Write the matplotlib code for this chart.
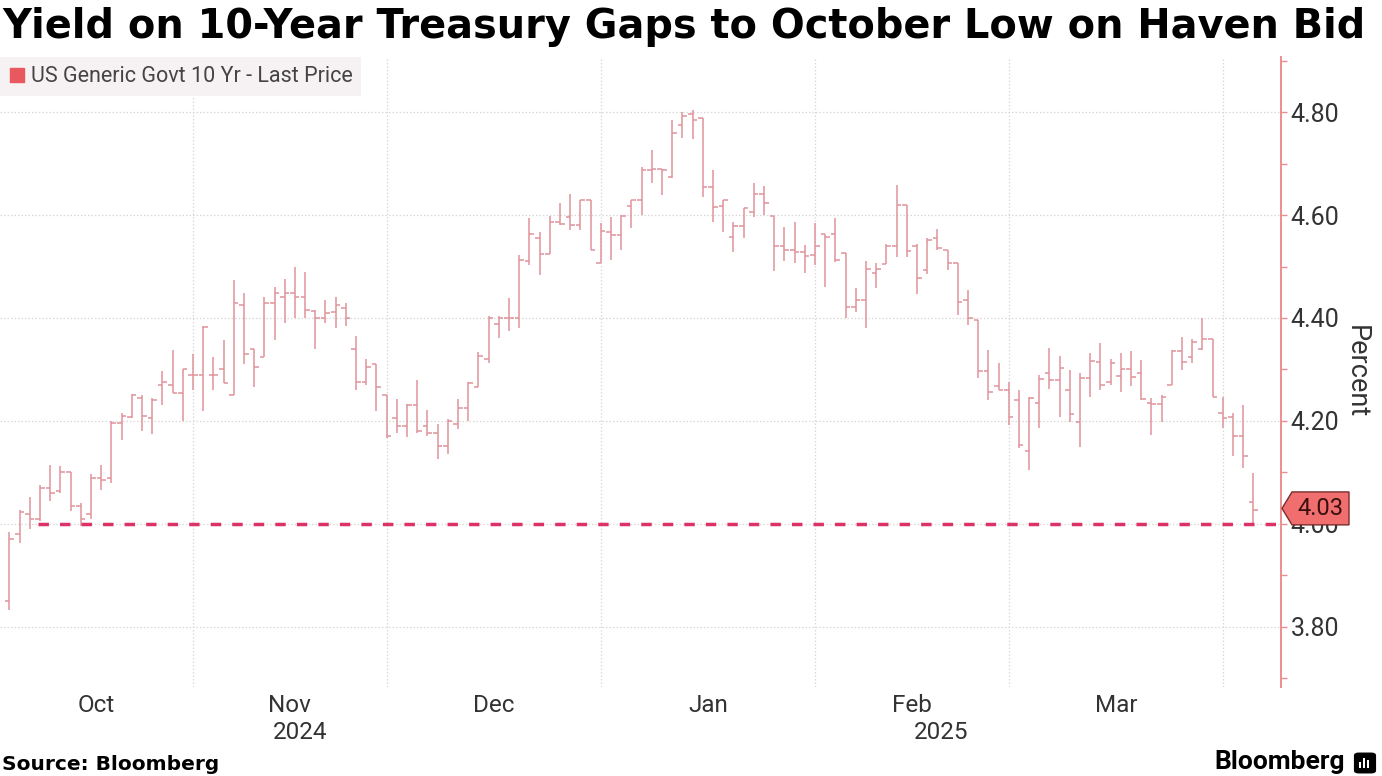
import numpy as np
import pandas as pd
import matplotlib
matplotlib.use("Agg")
import matplotlib.pyplot as plt
import matplotlib.transforms as mtransforms
from matplotlib.lines import Line2D
from matplotlib.patches import Polygon, FancyBboxPatch, Rectangle

# ---- data -------------------------------------------------------------
title = "Yield on 10-Year Treasury Gaps to October Low on Haven Bid"
series_name = "US Generic Govt 10 Yr - Last Price"

# bond market trading days (holidays taken out)
holidays = ["2024-10-14", "2024-11-11", "2024-11-28", "2024-12-25",
            "2025-01-01", "2025-01-20", "2025-02-17"]
dates = pd.bdate_range("2024-10-04", "2025-04-03", freq="C", holidays=holidays)

opens = [3.85, 3.98, 4.02, 4.01, 4.07, 4.063, 4.10, 4.035, 4.02, 4.09,
         4.09, 4.196, 4.208, 4.245, 4.206, 4.27, 4.27, 4.254, 4.29,
         4.29, 4.29, 4.30, 4.25, 4.425, 4.34, 4.325, 4.43, 4.44, 4.448,
         4.44, 4.413, 4.40, 4.412, 4.42, 4.34, 4.275, 4.31, 4.25,
         4.205, 4.19, 4.23, 4.19, 4.177, 4.152, 4.194, 4.226, 4.266, 4.32,
         4.389, 4.40, 4.40, 4.51, 4.555, 4.524, 4.587, 4.597, 4.58, 4.629,
         4.506,
         4.568, 4.561, 4.617, 4.63, 4.687, 4.69, 4.673, 4.775, 4.796, 4.788,
         4.654, 4.617, 4.557, 4.579, 4.606, 4.64, 4.598, 4.539, 4.533, 4.529,
         4.522,
         4.563, 4.564, 4.526, 4.421, 4.435, 4.487, 4.505, 4.54, 4.62, 4.539,
         4.493, 4.555, 4.533, 4.506, 4.435, 4.397, 4.296, 4.268, 4.26,
         4.241, 4.141, 4.234, 4.294, 4.28, 4.26, 4.197, 4.283, 4.315, 4.276,
         4.287, 4.30, 4.293, 4.234, 4.233, 4.27, 4.335, 4.325, 4.339, 4.359,
         4.215,
         4.208, 4.17, 4.043]
highs = [3.985, 4.027, 4.053, 4.075, 4.115, 4.112, 4.10, 4.04, 4.096, 4.115,
         4.20, 4.215, 4.253, 4.25, 4.245, 4.297, 4.338, 4.30, 4.33,
         4.385, 4.325, 4.357, 4.474, 4.448, 4.34, 4.44, 4.461, 4.476, 4.50,
         4.49, 4.415, 4.435, 4.44, 4.43, 4.365, 4.32, 4.31, 4.25,
         4.242, 4.232, 4.279, 4.222, 4.194, 4.203, 4.243, 4.275, 4.333, 4.403,
         4.403, 4.439, 4.523, 4.594, 4.568, 4.598, 4.624, 4.64, 4.629, 4.629,
         4.585,
         4.597, 4.60, 4.629, 4.694, 4.727, 4.69, 4.784, 4.80, 4.804, 4.788,
         4.687, 4.629, 4.587, 4.613, 4.663, 4.656, 4.598, 4.577, 4.587, 4.542,
         4.584,
         4.564, 4.594, 4.526, 4.458, 4.511, 4.506, 4.544, 4.658, 4.62, 4.544,
         4.555, 4.572, 4.533, 4.506, 4.455, 4.397, 4.338, 4.312, 4.276,
         4.26, 4.247, 4.289, 4.341, 4.326, 4.298, 4.294, 4.331, 4.351, 4.32,
         4.331, 4.335, 4.318, 4.244, 4.25, 4.338, 4.364, 4.359, 4.40, 4.359,
         4.247,
         4.215, 4.231, 4.098]
lows = [3.833, 3.963, 3.99, 4.005, 4.045, 4.06, 4.025, 3.995, 4.01, 4.066,
        4.08, 4.163, 4.205, 4.18, 4.175, 4.23, 4.254, 4.20, 4.26,
        4.22, 4.26, 4.273, 4.25, 4.31, 4.265, 4.325, 4.357, 4.39, 4.40,
        4.40, 4.34, 4.39, 4.38, 4.385, 4.26, 4.27, 4.22, 4.166,
        4.177, 4.168, 4.177, 4.17, 4.126, 4.136, 4.184, 4.20, 4.266, 4.313,
        4.361, 4.374, 4.38, 4.503, 4.484, 4.524, 4.58, 4.57, 4.57, 4.532,
        4.506,
        4.513, 4.532, 4.574, 4.60, 4.663, 4.639, 4.671, 4.749, 4.747, 4.636,
        4.587, 4.568, 4.529, 4.555, 4.597, 4.60, 4.492, 4.51, 4.506, 4.487,
        4.503,
        4.461, 4.509, 4.40, 4.412, 4.38, 4.458, 4.505, 4.518, 4.518, 4.447,
        4.485, 4.532, 4.493, 4.406, 4.387, 4.283, 4.241, 4.26, 4.192,
        4.147, 4.104, 4.186, 4.262, 4.208, 4.198, 4.15, 4.247, 4.26, 4.27,
        4.257, 4.268, 4.241, 4.173, 4.197, 4.27, 4.299, 4.313, 4.338, 4.246,
        4.186,
        4.131, 4.108, 3.995]
closes = [3.97, 4.023, 4.01, 4.07, 4.06, 4.10, 4.035, 4.01, 4.09, 4.085,
          4.196, 4.21, 4.25, 4.21, 4.24, 4.275, 4.254, 4.30, 4.29,
          4.383, 4.29, 4.273, 4.43, 4.33, 4.305, 4.43, 4.448, 4.448, 4.44,
          4.415, 4.40, 4.41, 4.425, 4.40, 4.275, 4.305, 4.265, 4.17,
          4.19, 4.23, 4.18, 4.177, 4.152, 4.20, 4.226, 4.274, 4.327, 4.40,
          4.40, 4.40, 4.513, 4.563, 4.524, 4.587, 4.582, 4.58, 4.629, 4.532,
          4.569,
          4.561, 4.598, 4.63, 4.687, 4.69, 4.688, 4.76, 4.792, 4.785, 4.654,
          4.615, 4.629, 4.579, 4.613, 4.64, 4.623, 4.539, 4.533, 4.529, 4.52,
          4.54,
          4.558, 4.513, 4.421, 4.435, 4.495, 4.496, 4.539, 4.62, 4.531, 4.477,
          4.551, 4.535, 4.506, 4.432, 4.40, 4.296, 4.257, 4.26, 4.208,
          4.153, 4.244, 4.281, 4.28, 4.302, 4.214, 4.283, 4.317, 4.27, 4.313,
          4.30, 4.285, 4.242, 4.233, 4.247, 4.335, 4.315, 4.354, 4.359, 4.247,
          4.205,
          4.17, 4.131, 4.027]

last_price = 4.03
october_low = 4.00
low_line_start = 2.8   # bar position where the October-low line begins

y_ticks = [3.8, 4.0, 4.2, 4.4, 4.6, 4.8]

# ---- style ------------------------------------------------------------
bar_color = "#e0939b"
axis_color = "#ec8e8e"
grid_color = "#d8d8d8"
text_color = "#333333"
font = "Roboto"
head_font = "DejaVu Sans"

fig = plt.figure(figsize=(13.82, 7.76), dpi=100)
ax = fig.add_axes([0.0, 0.1147, 0.9269, 0.8118])

x = np.arange(len(dates))
ax.vlines(x, lows, highs, color=bar_color, lw=1.1, zorder=3)
ax.hlines(opens, x - 0.45, x, color=bar_color, lw=1.1, zorder=3)
ax.hlines(closes, x, x + 0.45, color=bar_color, lw=1.1, zorder=3)

x0, x1 = -0.92, len(dates) - 1 + 2.7
ax.set_xlim(x0, x1)
ax.set_ylim(3.683, 4.907)

# October low line
ax.plot([low_line_start, x1], [october_low, october_low], color="#dc3266",
        lw=2.5, dashes=(3.0, 3.2), zorder=4, dash_capstyle="butt")

# month boundaries (last trading day of month) and labels
month_end = [i for i in range(len(dates) - 1) if dates[i].month != dates[i + 1].month]
ax.set_xticks(month_end)
ax.set_xticklabels([])
ax.tick_params(axis="x", which="major", length=0)
edges = [x0] + month_end + [x1]
centers, names = [], []
for a, b in zip(edges[:-1], edges[1:]):
    if b - a < 10:
        continue
    mid = int(round((a + b) / 2))
    centers.append((a + b) / 2)
    names.append(dates[min(max(mid, 0), len(dates) - 1)].strftime("%b"))
ax.set_xticks(centers, minor=True)
ax.set_xticklabels(names, minor=True, fontsize=17.5, color=text_color, family=font)
ax.tick_params(axis="x", which="minor", length=0, pad=5)

# year labels centred on each year's visible span
trans_x = mtransforms.blended_transform_factory(ax.transData, ax.transAxes)
year_end = [i for i in range(len(dates) - 1) if dates[i].year != dates[i + 1].year]
yedges = [x0] + year_end + [x1]
for a, b in zip(yedges[:-1], yedges[1:]):
    yr = dates[int(max(a, 0)) + 1].year
    ax.text((a + b) / 2, -0.073, str(yr), transform=trans_x, ha="center",
            va="center", fontsize=17.5, color=text_color, family=font)

# y axis on the right
ax.yaxis.tick_right()
ax.yaxis.set_label_position("right")
ax.set_yticks(y_ticks)
ax.set_yticklabels(["%.2f" % v for v in y_ticks], fontsize=18,
                   color=text_color, family=font)
ax.set_yticks(np.arange(3.7, 4.95, 0.2), minor=True)
ax.tick_params(axis="y", which="major", length=4, width=1, color=axis_color, pad=3)
ax.tick_params(axis="y", which="minor", length=4, width=1, color=axis_color)
ax.set_ylabel("Percent", rotation=270, fontsize=19.5, color=text_color,
              family=font, labelpad=22)

ax.grid(True, which="major", axis="both", color=grid_color, lw=0.9,
        ls=(0, (1.2, 1.6)), zorder=0)

for s in ["top", "left", "bottom"]:
    ax.spines[s].set_visible(False)
ax.spines["right"].set_color(axis_color)
ax.spines["right"].set_linewidth(1.4)

# legend
handle = Line2D([], [], marker="s", ls="", color="#e8585e", markersize=10)
leg = ax.legend([handle], [series_name], loc="upper left", bbox_to_anchor=(0, 1),
                borderaxespad=0, frameon=True, fancybox=False, handlelength=0.7,
                handletextpad=0.3, borderpad=0.42,
                prop={"family": font, "size": 15.5})
leg.get_frame().set_facecolor("#f6f1f2")
leg.get_frame().set_edgecolor("none")
leg.get_frame().set_alpha(1)
for t in leg.get_texts():
    t.set_color("#444444")

# last price tag
trans_y = mtransforms.blended_transform_factory(ax.transAxes, ax.transData)
h = 0.032
tag = Polygon([(1.0008, last_price), (1.0086, last_price + h), (1.0531, last_price + h),
               (1.0531, last_price - h), (1.0086, last_price - h)],
              closed=True, transform=trans_y, clip_on=False, facecolor="#f06e6e",
              edgecolor="#7a2d2d", lw=1, zorder=10)
ax.add_patch(tag)
ax.text(1.031, last_price, "%.2f" % last_price, transform=trans_y, ha="center",
        va="center", fontsize=17, color="#3a0f0f", family=font, zorder=11,
        clip_on=False)

# titles and footer
fig.text(0.0015, 1 - 27 / 776, title, ha="left", va="center", fontsize=28.7,
         fontweight="bold", family=head_font, color="black")
fig.text(0.0015, 1 - 764 / 776, "Source: Bloomberg", ha="left", va="center",
         fontsize=14.5, fontweight="bold", family=head_font, color="black")
fig.text(1345 / 1382, 1 - 762 / 776, "Bloomberg", ha="right", va="center",
         fontsize=19, fontweight="bold", family=font, color="black")
logo = FancyBboxPatch((1356 / 1382, 1 - 772 / 776), 18 / 1382, 18 / 776,
                      boxstyle="round,pad=0.001,rounding_size=0.003",
                      transform=fig.transFigure, facecolor="black", edgecolor="black")
fig.patches.append(logo)
for k, hh in enumerate([6, 10, 8]):
    fig.patches.append(Rectangle(((1359 + 4 * k) / 1382, 1 - 768 / 776), 2.2 / 1382,
                                 hh / 776, transform=fig.transFigure,
                                 facecolor="white", edgecolor="none"))

fig.savefig("out.png", dpi=100)
